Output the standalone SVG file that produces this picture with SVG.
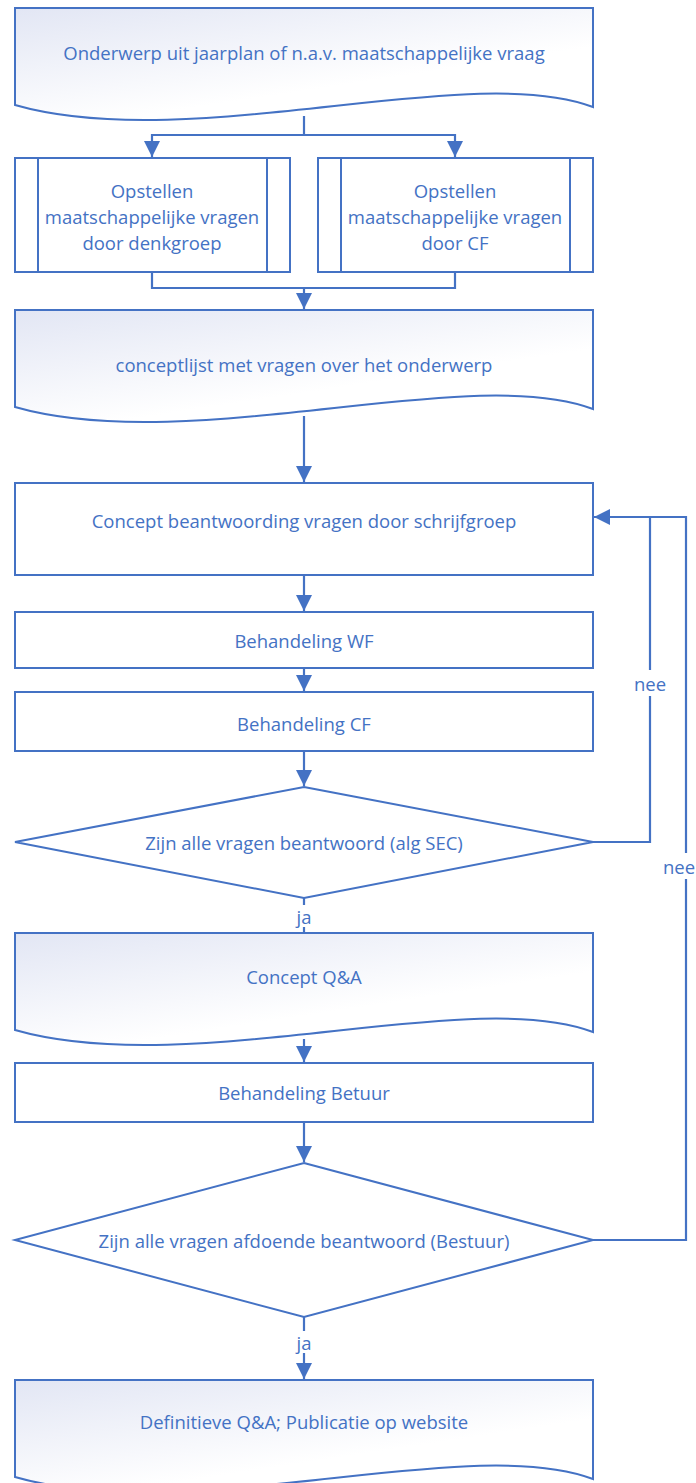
<svg xmlns="http://www.w3.org/2000/svg" width="696" height="1483" viewBox="0 0 696 1483">
<defs>
<linearGradient id="docfill" x1="0" y1="0" x2="0.55" y2="0.7">
<stop offset="0" stop-color="#E2E6F4"/>
<stop offset="1" stop-color="#FFFFFF"/>
</linearGradient>
<marker id="arr" markerUnits="userSpaceOnUse" markerWidth="16" markerHeight="16" viewBox="0 0 16 16" refX="16" refY="8" orient="auto">
<path d="M0,0 L16,8 L0,16 Z" fill="#4472C4"/>
</marker>
<style>
.shape{fill:#FFFFFF;stroke:#4472C4;stroke-width:2}
.doc{fill:url(#docfill);stroke:#4472C4;stroke-width:2}
.con{fill:none;stroke:#4472C4;stroke-width:2.2}
.lbl{font-family:"Open Sans","Liberation Sans",sans-serif;font-size:18.5px;fill:#4472C4;text-anchor:middle;dominant-baseline:central}
.bg{fill:#FFFFFF}
</style>
</defs>
<rect width="696" height="1483" fill="#FFFFFF"/>

<g id="connectors">
<path class="con" d="M304,116 V135 H152 V157" marker-end="url(#arr)"/>
<path class="con" d="M304,135 H455 V157" marker-end="url(#arr)"/>
<path class="con" d="M152,272 V288 H455 V272"/>
<path class="con" d="M304,288 V309" marker-end="url(#arr)"/>
<path class="con" d="M304,416 V482" marker-end="url(#arr)"/>
<path class="con" d="M304,575 V611" marker-end="url(#arr)"/>
<path class="con" d="M304,668 V691" marker-end="url(#arr)"/>
<path class="con" d="M304,751 V786" marker-end="url(#arr)"/>
<path class="con" d="M593,842 H650 V517 H594" marker-end="url(#arr)"/>
<path class="con" d="M304,898 V933"/>
<path class="con" d="M304,1039 V1062" marker-end="url(#arr)"/>
<path class="con" d="M304,1122 V1162" marker-end="url(#arr)"/>
<path class="con" d="M593,1240 H686 V517 H650"/>
<path class="con" d="M304,1317 V1379" marker-end="url(#arr)"/>
<rect class="bg" x="634" y="670" width="32" height="26"/>
<text class="lbl" x="650" y="683">nee</text>
<rect class="bg" x="663" y="853" width="33" height="26"/>
<text class="lbl" x="679" y="866">nee</text>
<rect class="bg" x="294" y="905" width="20" height="22"/>
<text class="lbl" x="304" y="916">ja</text>
<rect class="bg" x="294" y="1331" width="20" height="22"/>
<text class="lbl" x="304" y="1342">ja</text>
</g>

<g id="n1">
<path class="doc" d="M15,8 H593 V107 C470,60 190,155 15,105 Z"/>
<text class="lbl" x="304" y="52">Onderwerp uit jaarplan of n.a.v. maatschappelijke vraag</text>
</g>

<g id="n2">
<rect class="shape" x="15" y="158" width="275" height="114"/>
<path class="con" d="M38,158 V272 M267,158 V272" style="stroke-width:2"/>
<text class="lbl" x="152" y="190">Opstellen</text>
<text class="lbl" x="152" y="216">maatschappelijke vragen</text>
<text class="lbl" x="152" y="242">door denkgroep</text>
</g>

<g id="n3">
<rect class="shape" x="318" y="158" width="275" height="114"/>
<path class="con" d="M341,158 V272 M570,158 V272" style="stroke-width:2"/>
<text class="lbl" x="455" y="190">Opstellen</text>
<text class="lbl" x="455" y="216">maatschappelijke vragen</text>
<text class="lbl" x="455" y="242">door CF</text>
</g>

<g id="n4">
<path class="doc" d="M15,310 H593 V409 C470,362 190,457 15,407 Z"/>
<text class="lbl" x="304" y="364">conceptlijst met  vragen over het onderwerp</text>
</g>

<g id="n5">
<rect class="shape" x="15" y="483" width="578" height="92"/>
<text class="lbl" x="304" y="520">Concept beantwoording vragen door schrijfgroep</text>
</g>

<g id="n6">
<rect class="shape" x="15" y="612" width="578" height="56"/>
<text class="lbl" x="304" y="640">Behandeling WF</text>
</g>

<g id="n7">
<rect class="shape" x="15" y="692" width="578" height="59"/>
<text class="lbl" x="304" y="723">Behandeling CF</text>
</g>

<g id="n8">
<path class="shape" d="M304,787 L593,842 L304,898 L15,842 Z"/>
<text class="lbl" x="304" y="842">Zijn alle vragen beantwoord (alg SEC)</text>
</g>

<g id="n9">
<path class="doc" d="M15,933 H593 V1032 C470,985 190,1080 15,1030 Z"/>
<text class="lbl" x="304" y="976">Concept Q&amp;A</text>
</g>

<g id="n10">
<rect class="shape" x="15" y="1063" width="578" height="59"/>
<text class="lbl" x="304" y="1092">Behandeling Betuur</text>
</g>

<g id="n11">
<path class="shape" d="M304,1163 L593,1240 L304,1317 L15,1240 Z"/>
<text class="lbl" x="304" y="1240">Zijn alle vragen afdoende beantwoord (Bestuur)</text>
</g>

<g id="n12">
<path class="doc" d="M15,1380 H593 V1479 C470,1432 190,1527 15,1477 Z"/>
<text class="lbl" x="304" y="1421">Definitieve Q&amp;A; Publicatie op website</text>
</g>
</svg>
